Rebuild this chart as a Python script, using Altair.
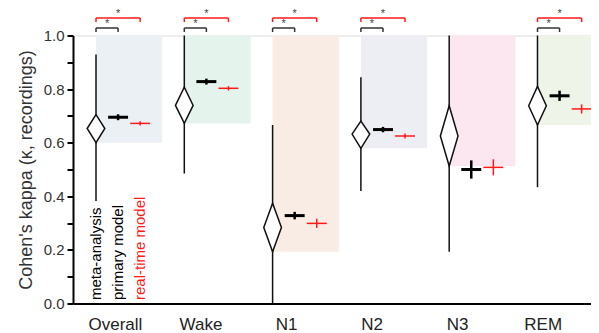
import altair as alt
import pandas as pd

# ---------------- data ----------------
categories = ["Overall", "Wake", "N1", "N2", "N3", "REM"]

meta_mean = [0.653, 0.739, 0.284, 0.632, 0.625, 0.738]
meta_lo = [0.600, 0.672, 0.193, 0.579, 0.513, 0.666]
meta_hi = [0.705, 0.807, 0.374, 0.681, 0.738, 0.810]
pred_lo = [0.382, 0.485, 0.000, 0.420, 0.193, 0.434]
pred_hi = [0.929, 1.000, 0.666, 0.844, 1.000, 1.000]

primary_mean = [0.695, 0.828, 0.328, 0.649, 0.500, 0.775]
primary_lo = [0.684, 0.817, 0.314, 0.639, 0.466, 0.756]
primary_hi = [0.706, 0.839, 0.342, 0.659, 0.534, 0.794]

realtime_mean = [0.672, 0.803, 0.299, 0.625, 0.508, 0.726]
realtime_lo = [0.664, 0.795, 0.282, 0.616, 0.478, 0.709]
realtime_hi = [0.680, 0.811, 0.316, 0.634, 0.538, 0.743]

sig_primary = [True, True, True, True, False, True]
sig_realtime = [True, True, True, True, False, True]

legend_labels = ["meta-analysis", "primary model", "real-time model"]
y_ticks = [0.0, 0.1, 0.2, 0.3, 0.4, 0.5, 0.6, 0.7, 0.8, 0.9, 1.0]

# ---------------- style ----------------
panel_colors = ["#EBF0F5", "#E4F3EC", "#F9ECE4", "#EDEEF4", "#FCE7F1", "#EEF4E7"]
RED = "#FF1A1A"
FONT = "Liberation Sans"
P_OFF, R_OFF, PANEL_W, HALF_CROSS, DIAM_HALF = 0.25, 0.5, 0.75, 0.113, 0.1
LABEL_START, LABEL_STEP = 0.22, 0.969

n = len(categories)
df = pd.DataFrame({
    "cat": categories,
    "idx": list(range(n)),
    "meta_mean": meta_mean, "meta_lo": meta_lo, "meta_hi": meta_hi,
    "pred_lo": pred_lo, "pred_hi": pred_hi,
    "p_mean": primary_mean, "p_lo": primary_lo, "p_hi": primary_hi,
    "r_mean": realtime_mean, "r_lo": realtime_lo, "r_hi": realtime_hi,
    "fill": panel_colors,
})
df["panel_x2"] = df["idx"] + PANEL_W
df["top"] = 1.0
df["xp"] = df["idx"] + P_OFF
df["xr"] = df["idx"] + R_OFF
df["xp_a"] = df["xp"] - HALF_CROSS
df["xp_b"] = df["xp"] + HALF_CROSS
df["xr_a"] = df["xr"] - HALF_CROSS
df["xr_b"] = df["xr"] + HALF_CROSS
df["label_x"] = LABEL_START + df["idx"] * LABEL_STEP

# diamond polygon points (derived from meta CI)
rows = []
for i in range(n):
    rows.append({"cat": categories[i], "x": i - DIAM_HALF, "y": meta_mean[i], "y2": meta_mean[i]})
    rows.append({"cat": categories[i], "x": i, "y": meta_hi[i], "y2": meta_lo[i]})
    rows.append({"cat": categories[i], "x": i + DIAM_HALF, "y": meta_mean[i], "y2": meta_mean[i]})
diam = pd.DataFrame(rows)

# significance brackets
br = []
for i in range(n):
    if sig_primary[i]:
        br.append({"x": i, "x2": i + P_OFF, "y": 1.028, "yt": 1.013, "ys": 1.043, "c": "#333333"})
    if sig_realtime[i]:
        br.append({"x": i, "x2": i + R_OFF, "y": 1.065, "yt": 1.050, "ys": 1.080, "c": RED})
brd = pd.DataFrame(br)
brd["xm"] = (brd["x"] + brd["x2"]) / 2

leg = pd.DataFrame({
    "t": legend_labels,
    "x": [0, P_OFF, R_OFF],
    "y": [0.013, 0.013, 0.013],
    "c": ["#000000", "#000000", RED],
})

xs = alt.Scale(domain=[-0.2605, 5.606], nice=False, zero=False)
ys = alt.Scale(domain=[0, 1], nice=False, zero=False)

yaxis = alt.Axis(
    title="Cohen's kappa (κ, recordings)", values=y_ticks,
    labelExpr="round(datum.value*10) % 2 == 0 ? format(datum.value, '.1f') : ''",
    grid=False, domainColor="black", domainWidth=2, tickColor="black", tickWidth=2,
    tickSize=6, labelFontSize=15, labelColor="#333333", labelPadding=3,
    titleFontSize=18, titleFontWeight="normal", titleColor="#333333", titlePadding=8,
    labelFont=FONT, titleFont=FONT,
)
xaxis = alt.Axis(title=None, labels=False, ticks=False, grid=False,
                 domainColor="black", domainWidth=2)


def X(field):
    return alt.X(field, scale=xs, axis=xaxis, title=None)


def Y(field):
    return alt.Y(field, scale=ys, axis=yaxis, title="Cohen's kappa (κ, recordings)")


base = alt.Chart(df)

panels = base.mark_rect(opacity=1).encode(
    x=X("idx:Q"), x2="panel_x2:Q",
    y=Y("meta_lo:Q"), y2="top:Q",
    color=alt.Color("fill:N", scale=None, legend=None),
)

pred = base.mark_rule(color="#111111", strokeWidth=1.5).encode(
    x=X("idx:Q"), y=Y("pred_lo:Q"), y2="pred_hi:Q",
)

diamond = alt.Chart(diam).mark_area(fill="white", stroke="#111111", strokeWidth=1.5,
                                    strokeJoin="miter").encode(
    x=X("x:Q"), y=Y("y:Q"), y2="y2:Q", detail="cat:N",
)

p_h = base.mark_rule(color="black", strokeWidth=3).encode(
    x=X("xp_a:Q"), x2="xp_b:Q", y=Y("p_mean:Q"),
)
p_v = base.mark_rule(color="black", strokeWidth=2.5).encode(
    x=X("xp:Q"), y=Y("p_lo:Q"), y2="p_hi:Q",
)
r_h = base.mark_rule(color=RED, strokeWidth=1.5).encode(
    x=X("xr_a:Q"), x2="xr_b:Q", y=Y("r_mean:Q"),
)
r_v = base.mark_rule(color=RED, strokeWidth=1.5).encode(
    x=X("xr:Q"), y=Y("r_lo:Q"), y2="r_hi:Q",
)

bchart = alt.Chart(brd)
br_h = bchart.mark_rule(strokeWidth=1.5).encode(
    x=X("x:Q"), x2="x2:Q", y=Y("y:Q"),
    color=alt.Color("c:N", scale=None, legend=None),
)
br_l = bchart.mark_rule(strokeWidth=1.5).encode(
    x=X("x:Q"), y=Y("yt:Q"), y2="y:Q",
    color=alt.Color("c:N", scale=None, legend=None),
)
br_r = bchart.mark_rule(strokeWidth=1.5).encode(
    x=X("x2:Q"), y=Y("yt:Q"), y2="y:Q",
    color=alt.Color("c:N", scale=None, legend=None),
)
stars = bchart.mark_text(text="*", fontSize=11, font=FONT, color="#444444",
                         baseline="middle", align="center").encode(
    x=X("xm:Q"), y=Y("ys:Q"),
)

legend_txt = alt.Chart(leg).mark_text(angle=270, align="left", baseline="middle",
                                      fontSize=15, font=FONT).encode(
    x=X("x:Q"), y=Y("y:Q"), text="t:N",
    color=alt.Color("c:N", scale=None, legend=None),
)

xlabels = base.mark_text(fontSize=17, font=FONT, color="#222222", baseline="middle",
                         align="center").encode(
    x=X("label_x:Q"), y=alt.value(268 + 21.5), text="cat:N",
)

chart = alt.layer(
    panels, pred, diamond, p_h, p_v, r_h, r_v, br_h, br_l, br_r, stars, legend_txt, xlabels
).properties(
    width=518, height=268,
    padding={"left": 65, "top": 27.5, "right": 0, "bottom": 30},
    autosize=alt.AutoSizeParams(type="none"),
).configure_view(stroke=None).configure(font=FONT)

chart.save("out.html", embed_options={"renderer": "svg", "actions": False})
